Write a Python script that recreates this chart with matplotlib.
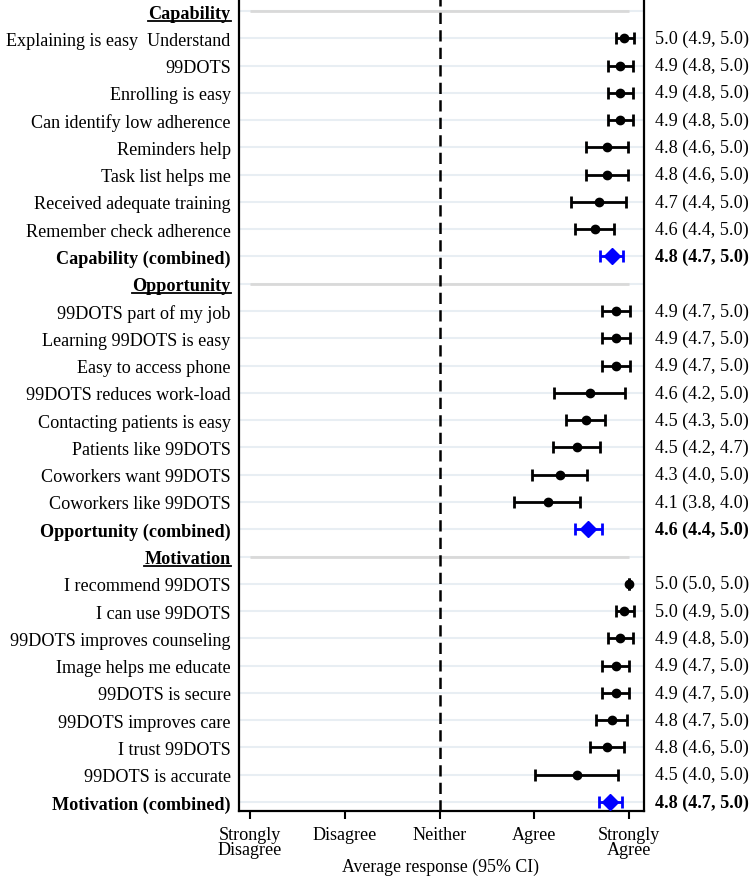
import matplotlib
matplotlib.use('Agg')
import matplotlib.pyplot as plt
from matplotlib.lines import Line2D
from matplotlib import transforms

plt.rcParams['font.family'] = ['Liberation Serif', 'DejaVu Serif']

# ─── Data ───
sections = ["Capability", "Opportunity", "Motivation"]

cap_labels = ["Explaining is easy  Understand", "99DOTS", "Enrolling is easy",
              "Can identify low adherence", "Reminders help", "Task list helps me",
              "Received adequate training", "Remember check adherence",
              "Capability (combined)"]
cap_est = [4.95, 4.91, 4.91, 4.91, 4.77, 4.77, 4.68, 4.64, 4.82]
cap_lo = [4.86, 4.78, 4.78, 4.78, 4.55, 4.55, 4.39, 4.43, 4.69]
cap_hi = [5.05, 5.04, 5.04, 5.04, 4.99, 4.99, 4.97, 4.84, 4.94]
cap_text = ["5.0 (4.9, 5.0)", "4.9 (4.8, 5.0)", "4.9 (4.8, 5.0)", "4.9 (4.8, 5.0)",
            "4.8 (4.6, 5.0)", "4.8 (4.6, 5.0)", "4.7 (4.4, 5.0)", "4.6 (4.4, 5.0)",
            "4.8 (4.7, 5.0)"]

opp_labels = ["99DOTS part of my job", "Learning 99DOTS is easy", "Easy to access phone",
              "99DOTS reduces work-load", "Contacting patients is easy",
              "Patients like 99DOTS", "Coworkers want 99DOTS", "Coworkers like 99DOTS",
              "Opportunity (combined)"]
opp_est = [4.86, 4.86, 4.86, 4.59, 4.55, 4.45, 4.27, 4.14, 4.57]
opp_lo = [4.71, 4.71, 4.71, 4.21, 4.33, 4.20, 3.98, 3.79, 4.43]
opp_hi = [5.01, 5.01, 5.01, 4.96, 4.75, 4.69, 4.56, 4.48, 4.71]
opp_text = ["4.9 (4.7, 5.0)", "4.9 (4.7, 5.0)", "4.9 (4.7, 5.0)", "4.6 (4.2, 5.0)",
            "4.5 (4.3, 5.0)", "4.5 (4.2, 4.7)", "4.3 (4.0, 5.0)", "4.1 (3.8, 4.0)",
            "4.6 (4.4, 5.0)"]

mot_labels = ["I recommend 99DOTS", "I can use 99DOTS", "99DOTS improves counseling",
              "Image helps me educate", "99DOTS is secure", "99DOTS improves care",
              "I trust 99DOTS", "99DOTS is accurate", "Motivation (combined)"]
mot_est = [5.00, 4.95, 4.91, 4.86, 4.86, 4.82, 4.77, 4.45, 4.80]
mot_lo = [5.00, 4.86, 4.78, 4.71, 4.71, 4.65, 4.59, 4.01, 4.68]
mot_hi = [5.00, 5.05, 5.04, 5.00, 5.00, 4.98, 4.95, 4.88, 4.93]
mot_text = ["5.0 (5.0, 5.0)", "5.0 (4.9, 5.0)", "4.9 (4.8, 5.0)", "4.9 (4.7, 5.0)",
            "4.9 (4.7, 5.0)", "4.8 (4.7, 5.0)", "4.8 (4.6, 5.0)", "4.5 (4.0, 5.0)",
            "4.8 (4.7, 5.0)"]

tick_pos = [1, 2, 3, 4, 5]
tick_labels = ["Strongly\nDisagree", "Disagree", "Neither", "Agree", "Strongly\nAgree"]

groups = [
    (cap_labels, cap_est, cap_lo, cap_hi, cap_text),
    (opp_labels, opp_est, opp_lo, opp_hi, opp_text),
    (mot_labels, mot_est, mot_lo, mot_hi, mot_text),
]

FS = 13.1
fig = plt.figure(figsize=(7.5, 8.79), dpi=100)
ax = fig.add_axes([239 / 750, 1 - 812 / 879, 405 / 750, 812 / 879])

ytick_pos, ytick_lab, header_pos, combined_pos = [], [], [], []
trans = transforms.blended_transform_factory(ax.transAxes, ax.transData)

y = 0
for name, (labels, est, lo, hi, txt) in zip(sections, groups):
    header_pos.append(y)
    ytick_pos.append(y)
    ytick_lab.append(name)
    ax.axhline(y, color="#e8eef3", lw=1.5, zorder=0)
    ax.hlines(y, 1, 5, color="#d9d9d9", lw=2, zorder=0)
    y += 1
    for i in range(len(labels)):
        combined = i == len(labels) - 1
        ax.axhline(y, color="#e8eef3", lw=1.5, zorder=0)
        if combined:
            ax.errorbar(est[i], y, xerr=[[est[i] - lo[i]], [hi[i] - est[i]]],
                        fmt="D", color="#0000ff", ms=8.5, lw=2, capsize=4,
                        capthick=2, zorder=3)
            combined_pos.append(y)
        else:
            ax.errorbar(est[i], y, xerr=[[est[i] - lo[i]], [hi[i] - est[i]]],
                        fmt="o", color="black", ms=6, lw=2, capsize=4,
                        capthick=2, zorder=3)
        ax.text(1.027, y, txt[i], transform=trans, ha="left", va="center",
                fontsize=FS, fontweight="bold" if combined else "normal")
        ytick_pos.append(y)
        ytick_lab.append(labels[i])
        y += 1

ax.axvline(3, color="black", lw=1.8, ls=(0, (4.5, 2.5)), zorder=1)

ax.set_xlim(0.884, 5.158)
ax.set_ylim(29.33, -0.44)

ax.set_yticks(ytick_pos)
ax.set_yticklabels(ytick_lab, fontsize=FS)
ax.tick_params(axis="y", length=0, pad=6)
for lab, p in zip(ax.get_yticklabels(), ytick_pos):
    if p in header_pos or p in combined_pos:
        lab.set_fontweight("bold")

ax.set_xticks(tick_pos)
ax.set_xticklabels(tick_labels, fontsize=FS, linespacing=0.85)
ax.tick_params(axis="x", length=6, width=1.5, pad=5)
fig.text(441 / 750, 1 - 867 / 879, "Average response (95% CI)", fontsize=12.8,
         ha="center", va="center")

for side in ["left", "right", "bottom"]:
    ax.spines[side].set_linewidth(1.6)
ax.spines["top"].set_visible(False)

# underline the section headers
fig.canvas.draw()
renderer = fig.canvas.get_renderer()
inv = fig.transFigure.inverted()
for lab, p in zip(ax.get_yticklabels(), ytick_pos):
    if p in header_pos:
        bb = lab.get_window_extent(renderer)
        (x0, y0), (x1, _) = inv.transform([(bb.x0, bb.y0 + 1), (bb.x1, bb.y0)])
        fig.add_artist(Line2D([x0, x1], [y0, y0], color="black", lw=1.3,
                              transform=fig.transFigure))

fig.savefig("out.png", dpi=100)
